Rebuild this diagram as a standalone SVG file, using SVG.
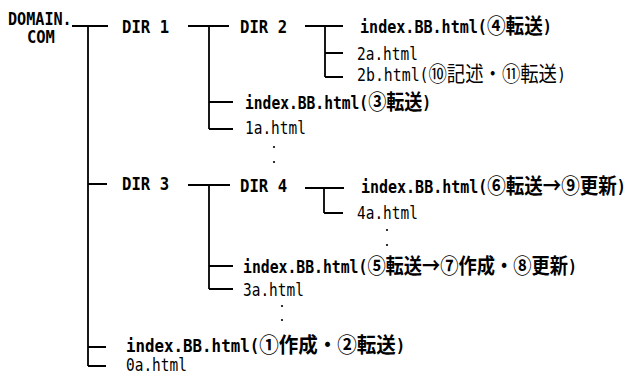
<svg xmlns="http://www.w3.org/2000/svg" width="630" height="375" viewBox="0 0 630 375">
<style>
.t{font-family:'DejaVu Sans Mono','Noto Sans CJK JP',monospace;font-size:17px;fill:#000}
.b{font-weight:bold}
.j{font-family:'Noto Sans CJK JP',sans-serif;font-size:21px}
.ln{stroke:#000;stroke-width:1.8;fill:none}
</style>
<rect width="630" height="375" fill="#fff"/>
<g id="connectors" class="ln">
<path d="M72,26H108M88,26V366M88,184H107M88,347H106M88,366H106"/>
<path d="M188,26H229M209,26V129M209,102H233M209,129H233"/>
<path d="M305,26H343M325,26V77M325,53H343M325,77H343"/>
<path d="M188,185H230M209,185V289M209,266H233M209,289H233"/>
<path d="M305,188H344M324,188V213M324,213H343"/>
</g>
<g id="root"><text class="t b" transform="translate(8,25) scale(0.89,1)">DOMAIN.</text><text class="t b" transform="translate(27,43) scale(0.91,1)">COM</text></g>
<g id="dir1"><text class="t b" transform="translate(122,33) scale(0.92,1)">DIR 1</text></g>
<g id="dir2"><text class="t b" transform="translate(240,33) scale(0.92,1)">DIR 2</text></g>
<g id="dir3"><text class="t b" transform="translate(122,190) scale(0.92,1)">DIR 3</text></g>
<g id="dir4"><text class="t b" transform="translate(240,192) scale(0.92,1)">DIR 4</text></g>
<g id="index4"><text class="t b" transform="translate(360,33) scale(0.887,1)">index.BB.html(<tspan class="j">④転送</tspan>)</text></g>
<g id="f2a"><text class="t" transform="translate(357,60) scale(0.85,1)">2a.html</text></g>
<g id="f2b"><text class="t" transform="translate(357,81) scale(0.874,1)">2b.html(<tspan class="j">⑩記述・⑪転送</tspan>)</text></g>
<g id="index3"><text class="t b" transform="translate(245,109) scale(0.86,1)">index.BB.html(<tspan class="j">③転送</tspan>)</text></g>
<g id="f1a"><text class="t" transform="translate(245,134) scale(0.85,1)">1a.html</text></g>
<g id="dots1"><circle cx="274" cy="147" r="1.1"/><circle cx="274" cy="162" r="1.1"/></g>
<g id="index6"><text class="t b" transform="translate(361,193) scale(0.882,1)">index.BB.html(<tspan class="j">⑥転送→⑨更新</tspan>)</text></g>
<g id="f4a"><text class="t" transform="translate(357,219) scale(0.85,1)">4a.html</text></g>
<g id="dots4"><circle cx="387" cy="230" r="1.1"/><circle cx="387" cy="245" r="1.1"/></g>
<g id="index5"><text class="t b" transform="translate(243,273) scale(0.869,1)">index.BB.html(<tspan class="j">⑤転送→⑦作成・⑧更新</tspan>)</text></g>
<g id="f3a"><text class="t" transform="translate(243,296) scale(0.85,1)">3a.html</text></g>
<g id="dots3"><circle cx="282" cy="306" r="1.1"/><circle cx="282" cy="320" r="1.1"/></g>
<g id="index1"><text class="t b" transform="translate(126,352) scale(0.93,1)">index.BB.html(<tspan class="j">①作成・②転送</tspan>)</text></g>
<g id="f0a"><text class="t" transform="translate(126,371) scale(0.85,1)">0a.html</text></g>
</svg>
